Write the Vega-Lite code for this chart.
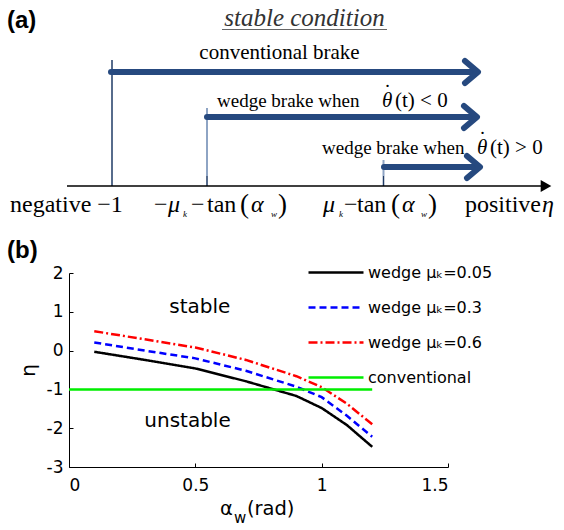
{
  "$schema": "https://vega.github.io/schema/vega-lite/v6.json",
  "padding": {"left": 7, "top": 0, "right": 0, "bottom": 0},
  "bounds": "flush",
  "spacing": 43,
  "resolve": {"legend": {"color": "independent", "strokeDash": "independent"}},
  "config": {"view": {"stroke": null}, "font": "DejaVu Sans"},
  "datasets": {
    "diag": [
      {"kind": "vdark", "x": 112, "y": 60, "y2": 186},
      {"kind": "vdark", "x": 207, "y": 176, "y2": 186},
      {"kind": "vdark", "x": 383.5, "y": 176, "y2": 186},
      {"kind": "vlight", "x": 207, "y": 108, "y2": 176},
      {"kind": "vlight", "x": 383.5, "y": 160, "y2": 176},
      {"kind": "axisline", "x": 67, "x2": 541, "y": 186},
      {"kind": "axishead", "x": 546, "y": 186},
      {"kind": "shaft", "x": 111, "x2": 474, "y": 72},
      {"kind": "shaft", "x": 207, "x2": 474, "y": 117},
      {"kind": "shaft", "x": 384, "x2": 476, "y": 167},
      {"kind": "underline", "x": 222, "x2": 387, "y": 29.5},
      {"kind": "chev", "id": "c1", "ord": 0, "x": 465, "y": 61},
      {"kind": "chev", "id": "c1", "ord": 1, "x": 478, "y": 72},
      {"kind": "chev", "id": "c1", "ord": 2, "x": 465, "y": 83},
      {"kind": "chev", "id": "c2", "ord": 0, "x": 464, "y": 106},
      {"kind": "chev", "id": "c2", "ord": 1, "x": 477, "y": 117},
      {"kind": "chev", "id": "c2", "ord": 2, "x": 464, "y": 128},
      {"kind": "chev", "id": "c3", "ord": 0, "x": 467, "y": 156},
      {"kind": "chev", "id": "c3", "ord": 1, "x": 480, "y": 167},
      {"kind": "chev", "id": "c3", "ord": 2, "x": 467, "y": 178},
      {"kind": "bold", "x": 7, "y": 28, "text": "(a)"},
      {"kind": "ttl", "x": 304.5, "y": 26, "text": "stable condition"},
      {"kind": "conv", "x": 279.5, "y": 58.5, "text": "conventional brake"},
      {"kind": "wedge", "x": 217, "y": 107, "text": "wedge brake when"},
      {"kind": "wedge", "x": 322, "y": 154, "text": "wedge brake when"},
      {"kind": "thit", "x": 382, "y": 107, "text": "θ"},
      {"kind": "dot", "x": 387.5, "y": 99, "text": "˙"},
      {"kind": "threst", "x": 395, "y": 107, "text": "(t) < 0"},
      {"kind": "thit", "x": 477, "y": 154, "text": "θ"},
      {"kind": "dot", "x": 482.5, "y": 146, "text": "˙"},
      {"kind": "threst", "x": 490, "y": 154, "text": "(t) > 0"},
      {"kind": "lab", "x": 10, "y": 212, "text": "negative −1"},
      {"kind": "lab", "x": 154, "y": 212, "text": "−"},
      {"kind": "labit", "x": 168, "y": 212, "text": "μ"},
      {"kind": "sub", "x": 183, "y": 217, "text": "k"},
      {"kind": "lab", "x": 191, "y": 212, "text": "−"},
      {"kind": "lab", "x": 207, "y": 212, "text": "tan"},
      {"kind": "paren", "x": 240, "y": 213, "text": "("},
      {"kind": "labit", "x": 251, "y": 212, "text": "α"},
      {"kind": "sub", "x": 271, "y": 217, "text": "w"},
      {"kind": "paren", "x": 278, "y": 213, "text": ")"},
      {"kind": "labit", "x": 323, "y": 212, "text": "μ"},
      {"kind": "sub", "x": 339, "y": 217, "text": "k"},
      {"kind": "lab", "x": 344, "y": 212, "text": "−"},
      {"kind": "lab", "x": 357, "y": 212, "text": "tan"},
      {"kind": "paren", "x": 391, "y": 213, "text": "("},
      {"kind": "labit", "x": 402, "y": 212, "text": "α"},
      {"kind": "sub", "x": 421, "y": 217, "text": "w"},
      {"kind": "paren", "x": 428, "y": 213, "text": ")"},
      {"kind": "lab", "x": 465, "y": 212, "text": "positive"},
      {"kind": "labit", "x": 542, "y": 212, "text": "η"}
    ],
    "curves": [
      {"series": "wedge μₖ=0.05", "alpha": 0.1, "eta": -0.03},
      {"series": "wedge μₖ=0.05", "alpha": 0.3, "eta": -0.24},
      {"series": "wedge μₖ=0.05", "alpha": 0.5, "eta": -0.46},
      {"series": "wedge μₖ=0.05", "alpha": 0.7, "eta": -0.79},
      {"series": "wedge μₖ=0.05", "alpha": 0.9, "eta": -1.17},
      {"series": "wedge μₖ=0.05", "alpha": 1.0, "eta": -1.48},
      {"series": "wedge μₖ=0.05", "alpha": 1.1, "eta": -1.92},
      {"series": "wedge μₖ=0.05", "alpha": 1.2, "eta": -2.48},
      {"series": "wedge μₖ=0.3", "alpha": 0.1, "eta": 0.21},
      {"series": "wedge μₖ=0.3", "alpha": 0.3, "eta": 0.0},
      {"series": "wedge μₖ=0.3", "alpha": 0.5, "eta": -0.2},
      {"series": "wedge μₖ=0.3", "alpha": 0.7, "eta": -0.52},
      {"series": "wedge μₖ=0.3", "alpha": 0.9, "eta": -0.93},
      {"series": "wedge μₖ=0.3", "alpha": 1.0, "eta": -1.2},
      {"series": "wedge μₖ=0.3", "alpha": 1.1, "eta": -1.68},
      {"series": "wedge μₖ=0.3", "alpha": 1.2, "eta": -2.22},
      {"series": "wedge μₖ=0.6", "alpha": 0.1, "eta": 0.5},
      {"series": "wedge μₖ=0.6", "alpha": 0.3, "eta": 0.29},
      {"series": "wedge μₖ=0.6", "alpha": 0.5, "eta": 0.08},
      {"series": "wedge μₖ=0.6", "alpha": 0.7, "eta": -0.24},
      {"series": "wedge μₖ=0.6", "alpha": 0.9, "eta": -0.66},
      {"series": "wedge μₖ=0.6", "alpha": 1.0, "eta": -0.94},
      {"series": "wedge μₖ=0.6", "alpha": 1.1, "eta": -1.37},
      {"series": "wedge μₖ=0.6", "alpha": 1.2, "eta": -1.9},
      {"series": "conventional", "alpha": 0.0, "eta": -1.0},
      {"series": "conventional", "alpha": 1.2, "eta": -1.0}
    ],
    "notes": [
      {"kind": "panel", "alpha": -0.245, "eta": 2.39, "text": "(b)"},
      {"kind": "region", "alpha": 0.518, "eta": 0.97, "text": "stable"},
      {"kind": "region", "alpha": 0.469, "eta": -1.96, "text": "unstable"},
      {"kind": "xtitle", "alpha": 0.5975, "eta": -4.237, "text": "α"},
      {"kind": "xsub", "alpha": 0.653, "eta": -4.45, "text": "w"},
      {"kind": "xtitle", "alpha": 0.704, "eta": -4.237, "text": "(rad)"}
    ]
  },
  "vconcat": [
    {
      "width": 479,
      "height": 230,
      "data": {"name": "diag"},
      "encoding": {
        "x": {"field": "x", "type": "quantitative", "scale": {"domain": [69, 548], "nice": false, "zero": false}, "axis": null},
        "y": {"field": "y", "type": "quantitative", "scale": {"domain": [0, 230], "reverse": true, "nice": false, "zero": false}, "axis": null}
      },
      "layer": [
        {"transform": [{"filter": "datum.kind == 'vlight'"}], "mark": {"type": "rule", "color": "#8ea4c4", "strokeWidth": 2}, "encoding": {"y2": {"field": "y2"}}},
        {"transform": [{"filter": "datum.kind == 'vdark'"}], "mark": {"type": "rule", "color": "#1f3b66", "strokeWidth": 1.5}, "encoding": {"y2": {"field": "y2"}}},
        {"transform": [{"filter": "datum.kind == 'axisline'"}], "mark": {"type": "rule", "color": "#000000", "strokeWidth": 1.5}, "encoding": {"x2": {"field": "x2"}}},
        {"transform": [{"filter": "datum.kind == 'axishead'"}], "mark": {"type": "point", "shape": "triangle-right", "filled": true, "color": "#000000", "size": 150, "opacity": 1}},
        {"transform": [{"filter": "datum.kind == 'shaft'"}], "mark": {"type": "rule", "color": "#26497f", "strokeWidth": 6, "strokeCap": "round"}, "encoding": {"x2": {"field": "x2"}}},
        {"transform": [{"filter": "datum.kind == 'chev'"}], "mark": {"type": "line", "color": "#26497f", "strokeWidth": 6, "strokeCap": "round", "strokeJoin": "round"}, "encoding": {"detail": {"field": "id"}, "order": {"field": "ord"}}},
        {"transform": [{"filter": "datum.kind == 'underline'"}], "mark": {"type": "rule", "color": "#666666", "strokeWidth": 1.2}, "encoding": {"x2": {"field": "x2"}}},
        {"transform": [{"filter": "datum.kind == 'bold'"}], "mark": {"type": "text", "align": "left", "baseline": "alphabetic", "font": "Liberation Sans", "fontWeight": "bold", "fontSize": 24, "color": "#000000"}, "encoding": {"text": {"field": "text"}}},
        {"transform": [{"filter": "datum.kind == 'ttl'"}], "mark": {"type": "text", "align": "center", "baseline": "alphabetic", "font": "Liberation Serif", "fontStyle": "italic", "fontSize": 25, "color": "#333333"}, "encoding": {"text": {"field": "text"}}},
        {"transform": [{"filter": "datum.kind == 'conv'"}], "mark": {"type": "text", "align": "center", "baseline": "alphabetic", "font": "Liberation Serif", "fontSize": 21, "color": "#000000"}, "encoding": {"text": {"field": "text"}}},
        {"transform": [{"filter": "datum.kind == 'wedge'"}], "mark": {"type": "text", "align": "left", "baseline": "alphabetic", "font": "Liberation Serif", "fontSize": 19, "color": "#000000"}, "encoding": {"text": {"field": "text"}}},
        {"transform": [{"filter": "datum.kind == 'thit'"}], "mark": {"type": "text", "align": "left", "baseline": "alphabetic", "font": "Liberation Serif", "fontStyle": "italic", "fontSize": 21, "color": "#000000"}, "encoding": {"text": {"field": "text"}}},
        {"transform": [{"filter": "datum.kind == 'dot'"}], "mark": {"type": "text", "align": "center", "baseline": "alphabetic", "font": "Liberation Serif", "fontSize": 21, "color": "#000000"}, "encoding": {"text": {"field": "text"}}},
        {"transform": [{"filter": "datum.kind == 'threst'"}], "mark": {"type": "text", "align": "left", "baseline": "alphabetic", "font": "Liberation Serif", "fontSize": 21, "color": "#000000"}, "encoding": {"text": {"field": "text"}}},
        {"transform": [{"filter": "datum.kind == 'lab'"}], "mark": {"type": "text", "align": "left", "baseline": "alphabetic", "font": "Liberation Serif", "fontSize": 24, "color": "#000000"}, "encoding": {"text": {"field": "text"}}},
        {"transform": [{"filter": "datum.kind == 'paren'"}], "mark": {"type": "text", "align": "left", "baseline": "alphabetic", "font": "Liberation Serif", "fontSize": 27, "color": "#000000"}, "encoding": {"text": {"field": "text"}}},
        {"transform": [{"filter": "datum.kind == 'labit'"}], "mark": {"type": "text", "align": "left", "baseline": "alphabetic", "font": "Liberation Serif", "fontStyle": "italic", "fontSize": 24, "color": "#000000"}, "encoding": {"text": {"field": "text"}}},
        {"transform": [{"filter": "datum.kind == 'sub'"}], "mark": {"type": "text", "align": "left", "baseline": "alphabetic", "font": "Liberation Serif", "fontStyle": "italic", "fontSize": 9, "color": "#000000"}, "encoding": {"text": {"field": "text"}}}
      ]
    },
    {
      "width": 379,
      "height": 194,
      "encoding": {
        "x": {"field": "alpha", "type": "quantitative", "scale": {"domain": [0, 1.5], "nice": false, "zero": false},
              "axis": {"values": [0, 0.5, 1, 1.5], "format": "~g", "title": null, "grid": false, "domainColor": "#000000", "domainWidth": 1, "tickColor": "#000000", "tickSize": -4, "labelPadding": 14, "labelFont": "DejaVu Sans", "labelFontSize": 17, "labelColor": "#000000"}},
        "y": {"field": "eta", "type": "quantitative", "scale": {"domain": [-3, 2], "nice": false, "zero": false},
              "axis": {"values": [-3, -2, -1, 0, 1, 2], "labelExpr": "'' + datum.value", "title": "η", "titleFont": "DejaVu Sans", "titleFontSize": 20, "titleFontWeight": "normal", "titleColor": "#000000", "titlePadding": 8, "grid": false, "domainColor": "#000000", "domainWidth": 1, "tickColor": "#000000", "tickSize": -4, "labelPadding": 10, "labelFont": "DejaVu Sans", "labelFontSize": 17, "labelColor": "#000000"}}
      },
      "layer": [
        {
          "data": {"name": "curves"},
          "mark": {"type": "line", "strokeWidth": 2.5},
          "encoding": {
            "color": {"field": "series", "type": "nominal",
              "scale": {"domain": ["wedge μₖ=0.05", "wedge μₖ=0.3", "wedge μₖ=0.6", "conventional"], "range": ["#000000", "#0000ff", "#ff0000", "#00ee00"]},
              "legend": {"orient": "none", "legendX": 238, "legendY": -18, "title": null, "symbolType": "stroke", "symbolSize": 3025, "symbolStrokeWidth": 2.5, "labelFont": "DejaVu Sans", "labelFontSize": 16, "labelColor": "#000000", "labelOffset": 3, "rowPadding": 0, "clipHeight": 35, "padding": 0}},
            "strokeDash": {"field": "series", "type": "nominal",
              "scale": {"domain": ["wedge μₖ=0.05", "wedge μₖ=0.3", "wedge μₖ=0.6", "conventional"], "range": [[1, 0], [7, 4], [9, 3, 2, 3], [1, 0]]}}
          }
        },
        {
          "data": {"name": "notes"},
          "transform": [{"filter": "datum.kind == 'panel'"}],
          "mark": {"type": "text", "align": "left", "baseline": "alphabetic", "font": "Liberation Sans", "fontWeight": "bold", "fontSize": 24, "color": "#000000"},
          "encoding": {"text": {"field": "text"}}
        },
        {
          "data": {"name": "notes"},
          "transform": [{"filter": "datum.kind == 'region'"}],
          "mark": {"type": "text", "align": "center", "baseline": "alphabetic", "font": "DejaVu Sans", "fontSize": 20, "color": "#000000"},
          "encoding": {"text": {"field": "text"}}
        },
        {
          "data": {"name": "notes"},
          "transform": [{"filter": "datum.kind == 'xtitle'"}],
          "mark": {"type": "text", "align": "left", "baseline": "alphabetic", "font": "DejaVu Sans", "fontSize": 19.5, "color": "#000000"},
          "encoding": {"text": {"field": "text"}}
        },
        {
          "data": {"name": "notes"},
          "transform": [{"filter": "datum.kind == 'xsub'"}],
          "mark": {"type": "text", "align": "left", "baseline": "alphabetic", "font": "DejaVu Sans", "fontSize": 15, "color": "#000000"},
          "encoding": {"text": {"field": "text"}}
        }
      ]
    }
  ]
}
